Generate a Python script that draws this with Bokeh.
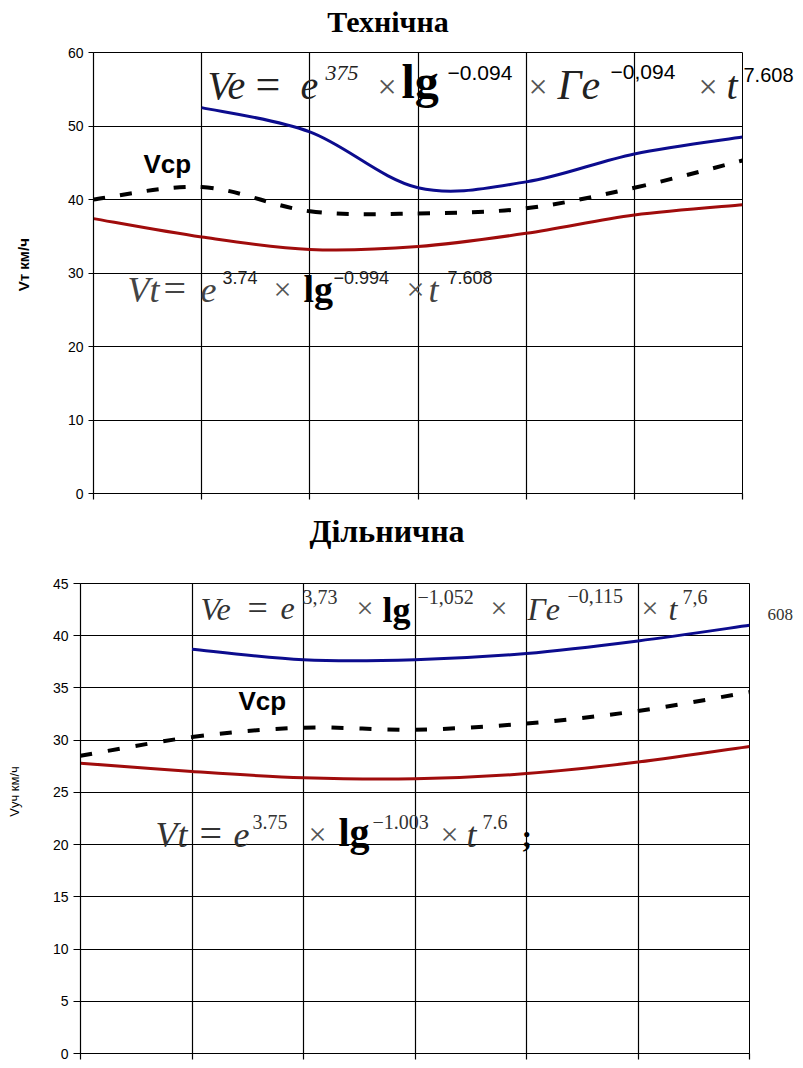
from bokeh.plotting import figure
from bokeh.models import Range1d, FixedTicker, Label, ColumnDataSource, LinearAxis
from bokeh.embed import file_html
from bokeh.resources import INLINE

# ---------------- data ----------------
x_pos = [0, 1, 2, 3, 4, 5, 6]

# Технічна (top)
tech_ve = [None, 52.5, 49.2, 41.6, 42.4, 46.2, 48.5]
tech_vcp = [40.0, 41.7, 38.4, 38.1, 38.8, 41.6, 45.3]
tech_vt = [37.4, 34.9, 33.2, 33.6, 35.4, 37.9, 39.3]
tech_yticks = [0, 10, 20, 30, 40, 50, 60]

# Дільнична (bottom)
dil_ve = [None, 38.7, 37.7, 37.7, 38.3, 39.5, 41.0]
dil_vcp = [28.5, 30.3, 31.2, 31.0, 31.6, 32.8, 34.6]
dil_vt = [27.8, 27.0, 26.4, 26.3, 26.8, 27.9, 29.4]
dil_yticks = [0, 5, 10, 15, 20, 25, 30, 35, 40, 45]

BLUE = "#0c0c8e"
RED = "#a00c0c"
SERIF = "Liberation Serif"
SANS = "Liberation Sans"
NB = "\u00a0"
GR = "#555555"


def smooth(p, xs, ys, **kw):
    pts = [(x, y) for x, y in zip(xs, ys) if y is not None]
    n = len(pts)
    d = dict(x0=[], y0=[], x1=[], y1=[], cx0=[], cy0=[], cx1=[], cy1=[])
    for i in range(n - 1):
        p0 = pts[i - 1] if i > 0 else pts[i]
        p1_ = pts[i]
        p2_ = pts[i + 1]
        p3 = pts[i + 2] if i + 2 < n else pts[i + 1]
        d["x0"].append(p1_[0]); d["y0"].append(p1_[1])
        d["x1"].append(p2_[0]); d["y1"].append(p2_[1])
        d["cx0"].append(p1_[0] + (p2_[0] - p0[0]) / 6)
        d["cy0"].append(p1_[1] + (p2_[1] - p0[1]) / 6)
        d["cx1"].append(p2_[0] - (p3[0] - p1_[0]) / 6)
        d["cy1"].append(p2_[1] - (p3[1] - p1_[1]) / 6)
    p.bezier(x0="x0", y0="y0", x1="x1", y1="y1", cx0="cx0", cy0="cy0",
             cx1="cx1", cy1="cy1", source=ColumnDataSource(d), **kw)


def make_fig(height, ymax, yticks, left, right, top, bottom, tick_out):
    p = figure(width=803, height=height, output_backend="svg", toolbar_location=None,
               x_range=Range1d(0, 6), y_range=Range1d(0, ymax),
               min_border_left=left, min_border_right=right,
               min_border_top=top, min_border_bottom=bottom,
               background_fill_color="white", border_fill_color="white")
    p.outline_line_color = "black"
    p.outline_line_width = 1
    p.xgrid.ticker = FixedTicker(ticks=x_pos)
    p.ygrid.ticker = FixedTicker(ticks=yticks)
    for g in (p.xgrid, p.ygrid):
        g.grid_line_color = "black"
        g.grid_line_width = 1.2
    p.xaxis.ticker = FixedTicker(ticks=x_pos)
    p.xaxis.major_label_overrides = {i: "" for i in x_pos}
    p.xaxis.major_label_text_font_size = "1px"
    p.xaxis.major_label_standoff = 0
    p.xaxis.major_tick_out = 6
    p.xaxis.major_tick_in = 0
    p.xaxis.minor_tick_line_color = None
    p.yaxis.ticker = FixedTicker(ticks=yticks)
    p.yaxis.major_tick_out = tick_out
    p.yaxis.major_tick_in = 0
    p.yaxis.minor_tick_line_color = None
    p.yaxis.major_label_text_font = SANS
    p.yaxis.major_label_text_font_size = "14px"
    p.yaxis.major_label_text_color = "black"
    p.yaxis.major_label_standoff = 5
    p.yaxis.axis_label_text_font = SANS
    p.yaxis.axis_label_text_color = "black"
    for ax in (p.xaxis, p.yaxis):
        ax.axis_line_color = "black"
        ax.axis_line_width = 1.2
        ax.major_tick_line_color = "black"
        ax.major_tick_line_width = 1.2
    return p


def title_axis(p, text, size, standoff):
    ax = LinearAxis(ticker=FixedTicker(ticks=[]), axis_label=text,
                    axis_label_text_font=SERIF, axis_label_text_font_size=f"{size}px",
                    axis_label_text_font_style="bold", axis_label_text_color="black",
                    axis_label_standoff=standoff, axis_line_color=None,
                    major_tick_line_color=None, minor_tick_line_color=None,
                    major_tick_out=0, major_tick_in=0, major_label_standoff=0,
                    major_label_text_font_size="1px")
    p.add_layout(ax, "above")


def side_text(p, tick, text, font, size, standoff, color):
    ax = LinearAxis(ticker=FixedTicker(ticks=[tick]), major_label_overrides={tick: text},
                    axis_line_color=None, major_tick_line_color=None,
                    minor_tick_line_color=None, major_tick_out=0, major_tick_in=0,
                    major_label_standoff=standoff, major_label_text_font=font,
                    major_label_text_font_size=f"{size}px", major_label_text_color=color)
    p.add_layout(ax, "right")


def adder(p, fx0, fx1, fy0, fy1, ymax):
    sx = (fx1 - fx0) / 6.0
    sy = (fy0 - fy1) / ymax

    def add(px, py, text, font=SERIF, size=20, style="normal", color="black"):
        py = py - 0.3 * size
        p.add_layout(Label(x=(px - fx0) / sx, y=(fy0 - py) / sy, text=text,
                           text_font=font, text_font_size=f"{size}px",
                           text_font_style=style, text_color=color,
                           text_align="left", text_baseline="alphabetic"))
    return add


# ---------------- top chart ----------------
p1 = make_fig(503, 60, tech_yticks, 93, 61, 52, 10, 5)
title_axis(p1, "Технічна" + NB * 8, 30, 15)
side_text(p1, 57, "7.608", SANS, 20, 1, "black")
p1.yaxis[0].axis_label = NB * 4 + "Vт км/ч"
p1.yaxis[0].axis_label_text_font_size = "15px"
p1.yaxis[0].axis_label_text_font_style = "bold"
p1.yaxis[0].axis_label_standoff = 33
smooth(p1, x_pos, tech_vt, line_color=RED, line_width=3)
smooth(p1, x_pos, tech_vcp, line_color="black", line_width=4, line_dash="12 15")
smooth(p1, x_pos, tech_ve, line_color=BLUE, line_width=3)

a1 = adder(p1, 93, 742, 493, 52, 60)
a1(143, 171, "Vcp", SANS, 26, "bold")
for t in [
    (207, 97, "Ve", SERIF, 40, "italic", "#222222"),
    (255, 97, "=", SERIF, 44, "normal", "#222222"),
    (300, 97, "e", SERIF, 40, "italic", "#222222"),
    (325, 79, "375", SERIF, 22, "italic", "#222222"),
    (377, 96, "×", SERIF, 34, "normal", GR),
    (401, 95, "lg", SERIF, 48, "bold", "black"),
    (447, 79, "−0.094", SANS, 21, "normal", "black"),
    (528, 96, "×", SERIF, 34, "normal", GR),
    (557, 97, "Γe", SERIF, 42, "italic", "#222222"),
    (610, 78, "−0,094", SANS, 21, "normal", "black"),
    (698, 96, "×", SERIF, 34, "normal", GR),
    (726, 97, "t", SERIF, 40, "italic", "#222222"),
    (127, 300, "Vt", SERIF, 36, "italic", "#444444"),
    (163, 300, "=", SERIF, 40, "normal", "#444444"),
    (200, 300, "e", SERIF, 36, "italic", "#444444"),
    (222, 282, "3.74", SANS, 18, "normal", "#222222"),
    (273, 298, "×", SERIF, 32, "normal", GR),
    (303, 300, "lg", SERIF, 38, "bold", "black"),
    (333, 282, "−0.994", SANS, 18, "normal", "#222222"),
    (406, 298, "×", SERIF, 32, "normal", GR),
    (428, 300, "t", SERIF, 36, "italic", "#444444"),
    (447, 282, "7.608", SANS, 18, "normal", "#222222"),
]:
    a1(*t)

# ---------------- bottom chart ----------------
p2 = make_fig(560, 45, dil_yticks, 80, 54, 80, 10, 7)
title_axis(p2, "Дільнична" + NB * 7, 32, 35)
side_text(p2, 42, "608", SERIF, 17, 18, "#333333")
p2.yaxis[0].axis_label = NB * 15 + "Vуч км/ч"
p2.yaxis[0].axis_label_text_font_size = "13px"
p2.yaxis[0].axis_label_text_font_style = "normal"
p2.yaxis[0].axis_label_standoff = 28
smooth(p2, x_pos, dil_vt, line_color=RED, line_width=3)
smooth(p2, x_pos, dil_vcp, line_color="black", line_width=4, line_dash="12 16")
smooth(p2, x_pos, dil_ve, line_color=BLUE, line_width=3)

a2 = adder(p2, 80, 749, 1053, 583, 45)
a2(238, 708, "Vcp", SANS, 26, "bold")
for t in [
    (200, 618, "Ve", SERIF, 32, "italic", "#333333"),
    (247, 618, "=", SERIF, 36, "normal", "#333333"),
    (280, 618, "e", SERIF, 32, "italic", "#333333"),
    (302, 602, "3,73", SERIF, 20, "normal", "#333333"),
    (356, 616, "×", SERIF, 30, "normal", GR),
    (382, 620, "lg", SERIF, 36, "bold", "black"),
    (417, 602, "−1,052", SERIF, 20, "normal", "#333333"),
    (490, 616, "×", SERIF, 30, "normal", GR),
    (527, 618, "Γe", SERIF, 32, "italic", "#333333"),
    (567, 601, "−0,115", SERIF, 20, "normal", "#333333"),
    (641, 616, "×", SERIF, 30, "normal", GR),
    (668, 618, "t", SERIF, 32, "italic", "#333333"),
    (682, 602, "7,6", SERIF, 20, "normal", "#333333"),
    (155, 845, "Vt", SERIF, 36, "italic", "#333333"),
    (199, 845, "=", SERIF, 40, "normal", "#333333"),
    (233, 845, "e", SERIF, 36, "italic", "#333333"),
    (252, 827, "3.75", SERIF, 20, "normal", "#333333"),
    (308, 843, "×", SERIF, 32, "normal", GR),
    (338, 844, "lg", SERIF, 40, "bold", "black"),
    (372, 827, "−1.003", SERIF, 20, "normal", "#333333"),
    (440, 843, "×", SERIF, 32, "normal", GR),
    (466, 845, "t", SERIF, 36, "italic", "#333333"),
    (482, 827, "7.6", SERIF, 20, "normal", "#333333"),
    (521, 845, ";", SERIF, 32, "bold", "black"),
]:
    a2(*t)

open("out.html", "w").write(file_html([p1, p2], INLINE))
